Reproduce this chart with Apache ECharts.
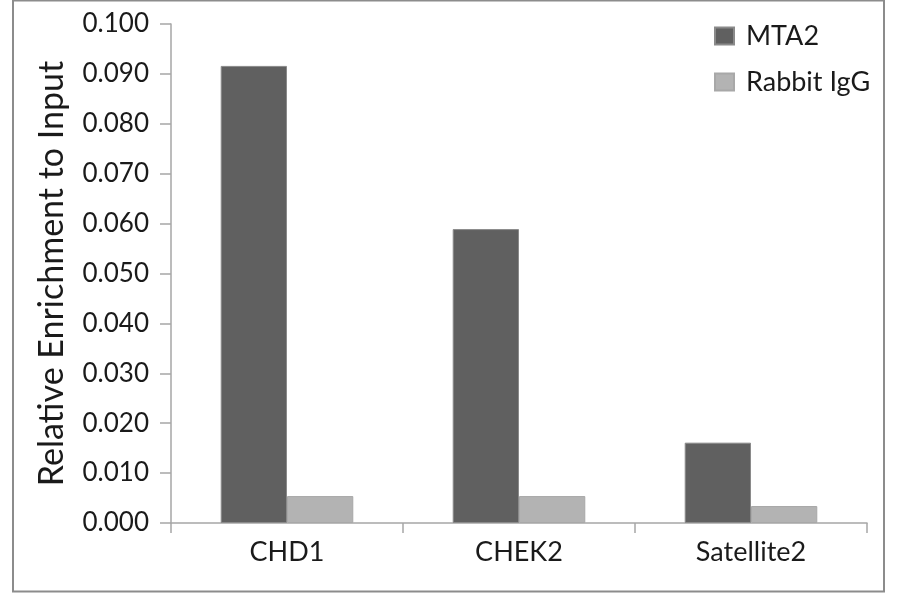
<!DOCTYPE html>
<html>
<head>
<meta charset="utf-8">
<script src="https://cdn.jsdelivr.net/npm/echarts@6/dist/echarts.min.js"></script>
<style>
  html, body { margin: 0; padding: 0; background: #ffffff; }
  #chart { width: 900px; height: 594px; }
</style>
</head>
<body>
<div id="chart"></div>
<script>
const categories = ['CHD1', 'CHEK2', 'Satellite2'];
const seriesNames = ['MTA2', 'Rabbit IgG'];
const mta2Values = [0.0916, 0.0589, 0.0161];
const igGValues = [0.0054, 0.0054, 0.0034];
const yAxisTitle = 'Relative Enrichment to Input';

const chart = echarts.init(document.getElementById('chart'), null, { renderer: 'canvas' });
const fontFamily = 'Lato, "Noto Sans", sans-serif';

chart.setOption({
  animation: false,
  backgroundColor: '#ffffff',
  graphic: [{
    type: 'rect',
    shape: { x: 13, y: 0.5, width: 871, height: 591 },
    style: { fill: 'none', stroke: '#8c8c8c', lineWidth: 2 },
    silent: true,
    z: -1
  }],
  grid: { left: 171, right: 33, top: 24, bottom: 71 },
  legend: {
    orient: 'vertical',
    left: 714,
    top: 22,
    padding: 0,
    icon: 'rect',
    itemWidth: 19,
    itemHeight: 17,
    itemGap: 18,
    textStyle: { fontFamily, fontSize: 27, lineHeight: 28, color: '#1a1a1a', padding: [0, 0, 0, 7] },
    data: seriesNames
  },
  xAxis: {
    type: 'category',
    data: categories,
    boundaryGap: true,
    axisLine: { lineStyle: { color: '#a6a6a6', width: 1.5 } },
    axisTick: { show: true, length: 10, lineStyle: { color: '#a6a6a6', width: 1.5 } },
    axisLabel: { fontFamily, fontSize: 27, color: '#1a1a1a', margin: 16 }
  },
  yAxis: {
    type: 'value',
    min: 0,
    max: 0.1,
    interval: 0.01,
    name: yAxisTitle,
    nameLocation: 'middle',
    nameGap: 102,
    nameTextStyle: { fontFamily, fontSize: 34, color: '#1a1a1a' },
    axisLine: { show: true, lineStyle: { color: '#a6a6a6', width: 1.5 } },
    axisTick: { show: true, length: 11, lineStyle: { color: '#a6a6a6', width: 1.5 } },
    splitLine: { show: false },
    axisLabel: {
      fontFamily, fontSize: 26, color: '#1a1a1a', margin: 22,
      formatter: v => v.toFixed(3)
    }
  },
  series: [
    {
      name: seriesNames[0],
      type: 'bar',
      data: mta2Values,
      barGap: '0%',
      barCategoryGap: '42.86%',
      itemStyle: { color: '#606060', borderColor: '#8a8a8a', borderWidth: 1 }
    },
    {
      name: seriesNames[1],
      type: 'bar',
      data: igGValues,
      barGap: '0%',
      barCategoryGap: '42.86%',
      itemStyle: { color: '#b3b3b3', borderColor: '#a8a8a8', borderWidth: 1 }
    }
  ]
});
</script>
</body>
</html>
